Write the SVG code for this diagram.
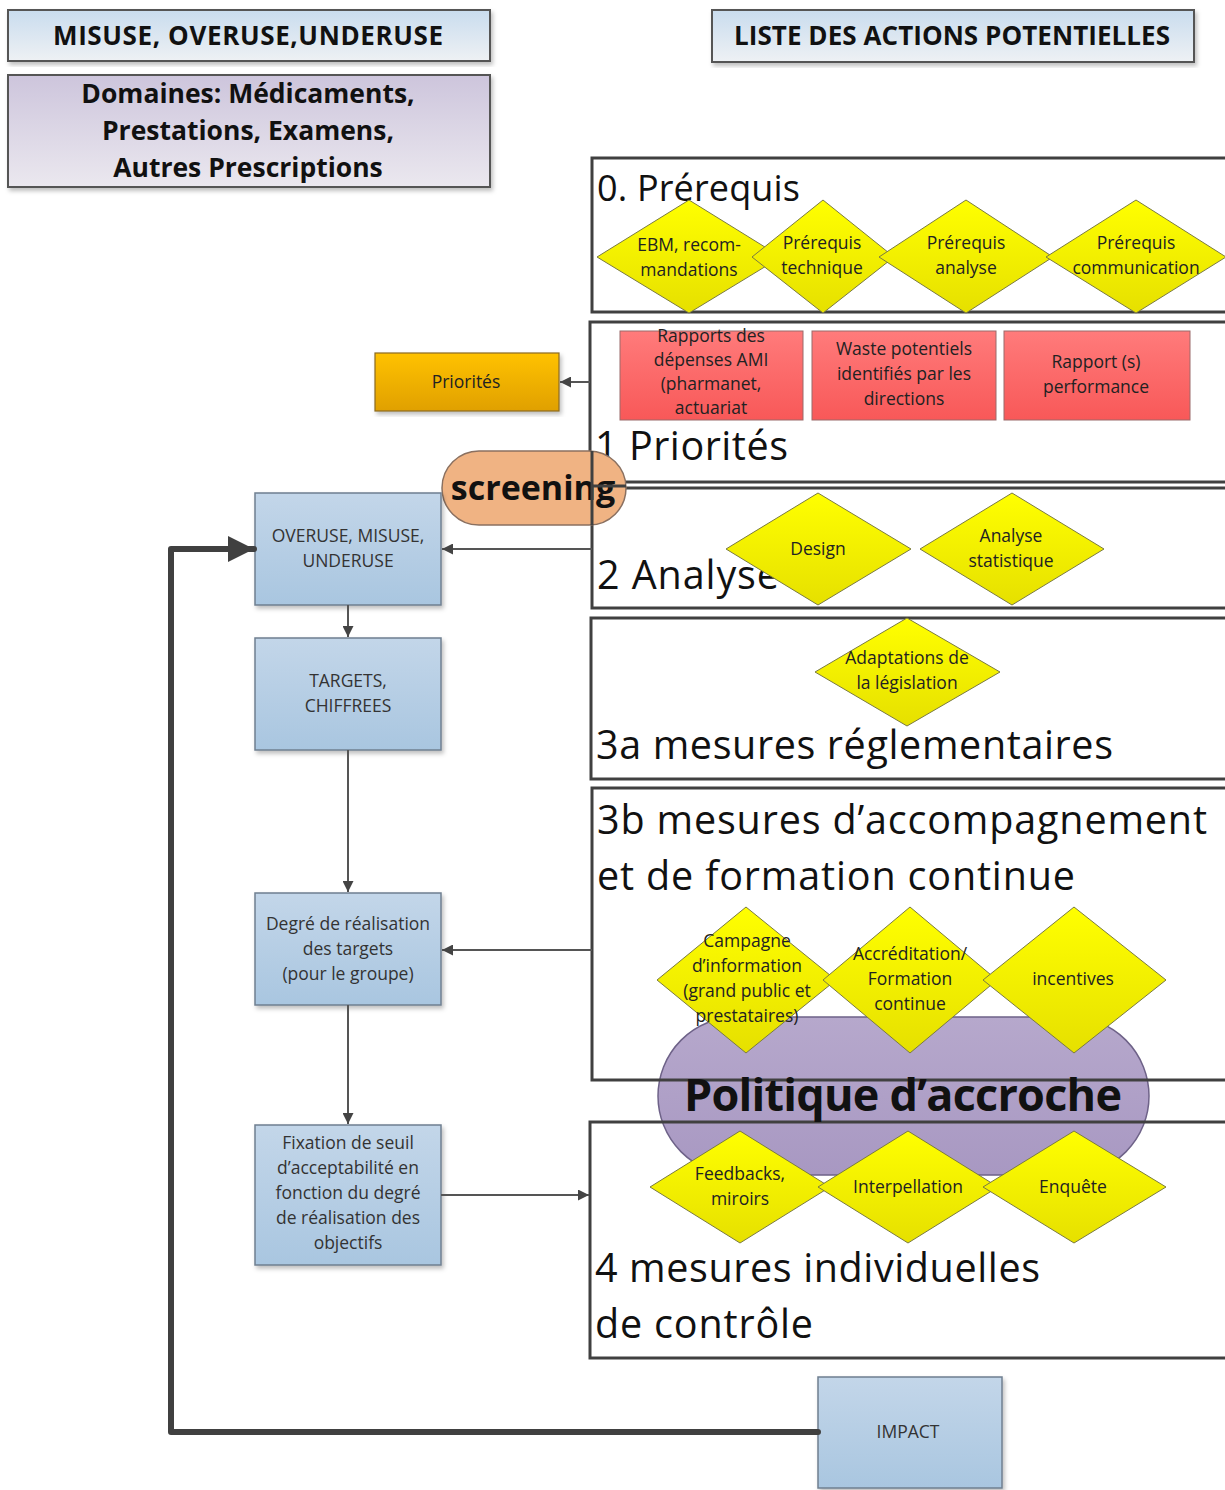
<svg xmlns="http://www.w3.org/2000/svg" width="1225" height="1490" viewBox="0 0 1225 1490">
<defs>
<linearGradient id="gHead" x1="0" y1="0" x2="0" y2="1"><stop offset="0" stop-color="#c9dcee"/><stop offset="1" stop-color="#eef1f4"/></linearGradient>
<linearGradient id="gDom" x1="0" y1="0" x2="0" y2="1"><stop offset="0" stop-color="#cdc5dc"/><stop offset="1" stop-color="#ebe8ef"/></linearGradient>
<linearGradient id="gBlue" x1="0" y1="0" x2="0" y2="1"><stop offset="0" stop-color="#c3d6e9"/><stop offset="1" stop-color="#a9c6e0"/></linearGradient>
<linearGradient id="gYel" x1="0" y1="0" x2="0" y2="1"><stop offset="0" stop-color="#ffff00"/><stop offset="1" stop-color="#e6e000"/></linearGradient>
<linearGradient id="gRed" x1="0" y1="0" x2="0" y2="1"><stop offset="0" stop-color="#ff7b7b"/><stop offset="1" stop-color="#f85858"/></linearGradient>
<linearGradient id="gOr" x1="0" y1="0" x2="0" y2="1"><stop offset="0" stop-color="#ffc200"/><stop offset="1" stop-color="#e0a000"/></linearGradient>
<linearGradient id="gPur" x1="0" y1="0" x2="0" y2="1"><stop offset="0" stop-color="#b6a8cc"/><stop offset="1" stop-color="#a898c2"/></linearGradient>
<marker id="ah" viewBox="0 0 10 10" refX="10" refY="5" markerWidth="11" markerHeight="11" markerUnits="userSpaceOnUse" orient="auto"><path d="M0,0 L10,5 L0,10 z" fill="#444"/></marker>
<marker id="ahBig" viewBox="0 0 10 10" refX="10" refY="5" markerWidth="26" markerHeight="26" markerUnits="userSpaceOnUse" orient="auto"><path d="M0,0 L10,5 L0,10 z" fill="#404040"/></marker>
<filter id="sh" x="-5%" y="-5%" width="115%" height="115%"><feDropShadow dx="2" dy="3" stdDeviation="2" flood-color="#000" flood-opacity="0.25"/></filter>
</defs>
<style>
text{font-family:"Open Sans","Liberation Sans",sans-serif;fill:#111;}
.hd{font-size:26px;font-weight:bold;text-anchor:middle;}
.dm{font-size:26.5px;font-weight:bold;text-anchor:middle;}
.sm{font-size:17.5px;text-anchor:middle;fill:#333;}
.dt{font-size:17.5px;text-anchor:middle;fill:#222;}
.ti{font-size:39.5px;fill:#111;}
.sec{fill:#fff;stroke:none;}
.secb{fill:none;stroke:#404040;stroke-width:3;}
.blue{fill:url(#gBlue);stroke:#6f7f90;stroke-width:1.5;}
.yel{fill:url(#gYel);stroke:#7a7a40;stroke-width:1;}
.red{fill:url(#gRed);stroke:#9a6a6a;stroke-width:1;}
.cn{fill:none;stroke:#555;stroke-width:2;}
</style>

<!-- headers -->
<g id="header-misuse">
<rect x="8" y="10" width="482" height="51" fill="url(#gHead)" stroke="#555" stroke-width="2" filter="url(#sh)"/>
<text class="hd" x="248" y="45" textLength="390">MISUSE, OVERUSE,UNDERUSE</text>
</g>
<g id="header-domaines">
<rect x="8" y="75" width="482" height="112" fill="url(#gDom)" stroke="#555" stroke-width="2" filter="url(#sh)"/>
<text class="dm" x="248" y="103">Domaines: Médicaments,</text>
<text class="dm" x="248" y="140">Prestations, Examens,</text>
<text class="dm" x="248" y="177">Autres Prescriptions</text>
</g>
<g id="header-liste">
<rect x="712" y="10" width="482" height="52" fill="url(#gHead)" stroke="#555" stroke-width="2" filter="url(#sh)"/>
<text class="hd" x="952" y="45" textLength="436">LISTE DES ACTIONS POTENTIELLES</text>
</g>

<!-- section fills -->
<rect class="sec" x="592" y="158" width="640" height="154"/>
<rect class="sec" x="590" y="322" width="642" height="160"/>
<rect class="sec" x="592" y="488" width="640" height="120"/>
<rect class="sec" x="591" y="618" width="641" height="161"/>
<rect class="sec" x="592" y="788" width="640" height="292"/>
<rect class="sec" x="590" y="1122" width="642" height="236"/>

<!-- politique pill (behind borders) -->
<g id="politique">
<rect x="658" y="1017" width="491" height="158" rx="79" ry="79" fill="url(#gPur)" stroke="#6e6288" stroke-width="1.5"/>
</g>

<!-- section borders -->
<g id="sec0"><rect class="secb" x="592" y="158" width="640" height="154"/><text class="ti" x="597" y="201" style="font-size:36px" textLength="203">0. Prérequis</text></g>
<g id="sec1"><rect class="secb" x="590" y="322" width="642" height="160"/><text class="ti" x="595" y="460" textLength="193">1 Priorités</text></g>
<g id="sec2"><rect class="secb" x="592" y="488" width="640" height="120"/></g>
<g id="sec3a"><rect class="secb" x="591" y="618" width="641" height="161"/></g>
<g id="sec3b"><rect class="secb" x="592" y="788" width="640" height="292"/>
<text class="ti" x="597" y="834" textLength="610">3b mesures d’accompagnement</text>
<text class="ti" x="597" y="890" textLength="478">et de formation continue</text></g>
<g id="sec4"><rect class="secb" x="590" y="1122" width="642" height="236"/>
<text class="ti" x="595" y="1282" textLength="445">4 mesures individuelles</text>
<text class="ti" x="595" y="1338" textLength="218">de contrôle</text></g>

<text x="903" y="1111" style="font-size:45px;font-weight:bold;text-anchor:middle;fill:#111" textLength="438">Politique d’accroche</text>

<!-- prerequis diamonds -->
<g id="d-ebm"><polygon class="yel" points="689,200 781,257 689,313 597,257"/><text class="dt" x="689" y="251">EBM, recom-</text><text class="dt" x="689" y="276">mandations</text></g>
<g id="d-tech"><polygon class="yel" points="823,200 894,257 823,313 752,257"/><text class="dt" x="822" y="249">Prérequis</text><text class="dt" x="822" y="274">technique</text></g>
<g id="d-analyse"><polygon class="yel" points="966,200 1053,257 966,313 879,257"/><text class="dt" x="966" y="249">Prérequis</text><text class="dt" x="966" y="274">analyse</text></g>
<g id="d-comm"><polygon class="yel" points="1136,200 1226,257 1136,313 1046,257"/><text class="dt" x="1136" y="249">Prérequis</text><text class="dt" x="1136" y="274">communication</text></g>

<!-- priorities red boxes -->
<g id="r-rapports"><rect class="red" x="620" y="331" width="183" height="89"/><text class="dt" x="711" y="342">Rapports des</text><text class="dt" x="711" y="366">dépenses AMI</text><text class="dt" x="711" y="390">(pharmanet,</text><text class="dt" x="711" y="414">actuariat</text></g>
<g id="r-waste"><rect class="red" x="812" y="331" width="184" height="89"/><text class="dt" x="904" y="355">Waste potentiels</text><text class="dt" x="904" y="380">identifiés par les</text><text class="dt" x="904" y="405">directions</text></g>
<g id="r-perf"><rect class="red" x="1004" y="331" width="186" height="89"/><text class="dt" x="1096" y="368">Rapport (s)</text><text class="dt" x="1096" y="393">performance</text></g>

<!-- priorités orange -->
<g id="priorites"><rect x="375" y="353" width="184" height="58" fill="url(#gOr)" stroke="#8a6a20" stroke-width="1.2" filter="url(#sh)"/><text class="dt" x="466" y="388">Priorités</text></g>

<!-- section 2 -->
<g id="screening"><rect x="442" y="451" width="184" height="74" rx="37" ry="37" fill="#f0b383" stroke="#8a7060" stroke-width="1.5"/><text x="533" y="500" style="font-size:34px;font-weight:bold;text-anchor:middle;fill:#111">screening</text></g>
<line x1="592" y1="486" x2="626" y2="486" stroke="#404040" stroke-width="3"/>
<line x1="592" y1="451" x2="592" y2="525" stroke="#404040" stroke-width="3"/>
<text class="ti" x="597" y="589" textLength="182">2 Analyse</text>
<g id="d-design"><polygon class="yel" points="818,493 911,549 818,605 726,549"/><text class="dt" x="818" y="555">Design</text></g>
<g id="d-stat"><polygon class="yel" points="1012,493 1104,549 1012,605 920,549"/><text class="dt" x="1011" y="542">Analyse</text><text class="dt" x="1011" y="567">statistique</text></g>

<!-- 3a -->
<g id="d-adapt"><polygon class="yel" points="907,618 1000,672 907,726 815,672"/><text class="dt" x="907" y="664">Adaptations de</text><text class="dt" x="907" y="689">la législation</text></g>
<text class="ti" x="596" y="759" textLength="517">3a mesures réglementaires</text>

<!-- 3b diamonds -->
<g id="d-campagne"><polygon class="yel" points="746,907 836,980 746,1053 657,980"/><text class="dt" x="747" y="947">Campagne</text><text class="dt" x="747" y="972">d’information</text><text class="dt" x="747" y="997">(grand public et</text><text class="dt" x="747" y="1022">prestataires)</text></g>
<g id="d-accred"><polygon class="yel" points="910,907 997,980 910,1053 823,980"/><text class="dt" x="910" y="960">Accréditation/</text><text class="dt" x="910" y="985">Formation</text><text class="dt" x="910" y="1010">continue</text></g>
<g id="d-incent"><polygon class="yel" points="1074,907 1166,980 1074,1053 983,980"/><text class="dt" x="1073" y="985">incentives</text></g>

<!-- 4 diamonds -->
<g id="d-feed"><polygon class="yel" points="740,1131 830,1187 740,1243 650,1187"/><text class="dt" x="740" y="1180">Feedbacks,</text><text class="dt" x="740" y="1205">miroirs</text></g>
<g id="d-interp"><polygon class="yel" points="908,1131 998,1187 908,1243 818,1187"/><text class="dt" x="908" y="1193">Interpellation</text></g>
<g id="d-enq"><polygon class="yel" points="1074,1131 1166,1187 1074,1243 983,1187"/><text class="dt" x="1073" y="1193">Enquête</text></g>

<!-- left column -->
<g id="overuse"><rect class="blue" x="255" y="493" width="186" height="112" filter="url(#sh)"/><text class="sm" x="348" y="542">OVERUSE, MISUSE,</text><text class="sm" x="348" y="567">UNDERUSE</text></g>
<g id="targets"><rect class="blue" x="255" y="638" width="186" height="112" filter="url(#sh)"/><text class="sm" x="348" y="687">TARGETS,</text><text class="sm" x="348" y="712">CHIFFREES</text></g>
<g id="degre"><rect class="blue" x="255" y="893" width="186" height="112" filter="url(#sh)"/><text class="sm" x="348" y="930">Degré de réalisation</text><text class="sm" x="348" y="955">des targets</text><text class="sm" x="348" y="980">(pour le groupe)</text></g>
<g id="fixation"><rect class="blue" x="255" y="1125" width="186" height="140" filter="url(#sh)"/><text class="sm" x="348" y="1149">Fixation de seuil</text><text class="sm" x="348" y="1174">d’acceptabilité en</text><text class="sm" x="348" y="1199">fonction du degré</text><text class="sm" x="348" y="1224">de réalisation des</text><text class="sm" x="348" y="1249">objectifs</text></g>
<g id="impact"><rect class="blue" x="818" y="1377" width="184" height="111" filter="url(#sh)"/><text class="sm" x="908" y="1438">IMPACT</text></g>

<!-- connectors -->
<g id="connectors">
<line class="cn" x1="590" y1="382" x2="560" y2="382" marker-end="url(#ah)"/>
<line class="cn" x1="592" y1="549" x2="442" y2="549" marker-end="url(#ah)"/>
<line class="cn" x1="348" y1="605" x2="348" y2="637" marker-end="url(#ah)"/>
<line class="cn" x1="348" y1="750" x2="348" y2="892" marker-end="url(#ah)"/>
<line class="cn" x1="592" y1="950" x2="442" y2="950" marker-end="url(#ah)"/>
<line class="cn" x1="348" y1="1005" x2="348" y2="1124" marker-end="url(#ah)"/>
<line class="cn" x1="441" y1="1195" x2="589" y2="1195" marker-end="url(#ah)"/>
<path d="M818,1432 L171,1432 L171,549 L254,549" fill="none" stroke="#404040" stroke-width="6" stroke-linejoin="round" stroke-linecap="round" marker-end="url(#ahBig)"/>
</g>
</svg>
